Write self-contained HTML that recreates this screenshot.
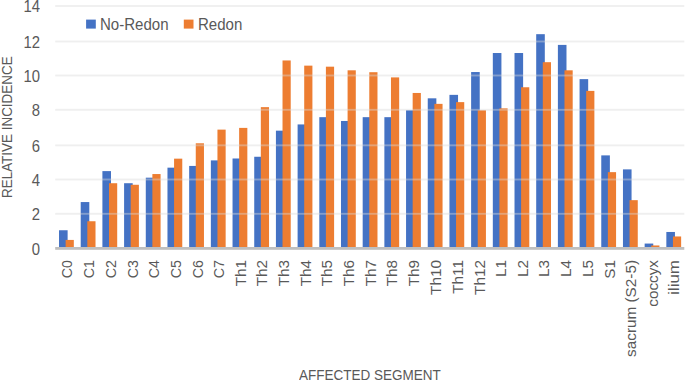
<!DOCTYPE html>
<html><head><meta charset="utf-8">
<style>
html,body{margin:0;padding:0;background:#fff;}
body{width:685px;height:382px;position:relative;overflow:hidden;font-family:"Liberation Sans",sans-serif;color:#595959;}
svg{position:absolute;left:0;top:0;}
.yt,.xl,.lg,.t{position:absolute;}
.yt{left:-0.5px;width:40px;text-align:right;font-size:16.5px;line-height:18px;transform-origin:100% 50%;transform:scaleX(0.9);}
.xl{top:259.7px;width:0;height:0;}
.xl span{position:absolute;right:0;top:-9px;line-height:18px;font-size:15.3px;white-space:nowrap;transform-origin:100% 50%;transform:rotate(-90deg);}
.lg{font-size:16px;line-height:18px;white-space:nowrap;transform-origin:0 50%;transform:scaleX(0.94);}
.t{line-height:18px;white-space:nowrap;transform-origin:0 0;}
</style></head><body>
<svg width="685" height="382" viewBox="0 0 685 382">
<rect x="59.02" y="230.25" width="8.6" height="17.35" fill="#4472C4"/>
<rect x="65.62" y="239.93" width="8.2" height="7.67" fill="#ED7D31"/>
<rect x="80.71" y="202.06" width="8.6" height="45.54" fill="#4472C4"/>
<rect x="87.31" y="221.25" width="8.2" height="26.35" fill="#ED7D31"/>
<rect x="102.4" y="171.11" width="8.6" height="76.49" fill="#4472C4"/>
<rect x="109" y="183.22" width="8.2" height="64.38" fill="#ED7D31"/>
<rect x="124.09" y="183.22" width="8.6" height="64.38" fill="#4472C4"/>
<rect x="130.69" y="184.77" width="8.2" height="62.83" fill="#ED7D31"/>
<rect x="145.78" y="177.68" width="8.6" height="69.92" fill="#4472C4"/>
<rect x="152.38" y="174.05" width="8.2" height="73.55" fill="#ED7D31"/>
<rect x="167.47" y="167.66" width="8.6" height="79.94" fill="#4472C4"/>
<rect x="174.07" y="158.66" width="8.2" height="88.94" fill="#ED7D31"/>
<rect x="189.16" y="165.93" width="8.6" height="81.67" fill="#4472C4"/>
<rect x="195.76" y="143.28" width="8.2" height="104.32" fill="#ED7D31"/>
<rect x="210.85" y="160.39" width="8.6" height="87.21" fill="#4472C4"/>
<rect x="217.45" y="129.62" width="8.2" height="117.98" fill="#ED7D31"/>
<rect x="232.54" y="158.49" width="8.6" height="89.11" fill="#4472C4"/>
<rect x="239.14" y="127.89" width="8.2" height="119.71" fill="#ED7D31"/>
<rect x="254.23" y="156.76" width="8.6" height="90.84" fill="#4472C4"/>
<rect x="260.83" y="107.14" width="8.2" height="140.46" fill="#ED7D31"/>
<rect x="275.92" y="130.66" width="8.6" height="116.94" fill="#4472C4"/>
<rect x="282.52" y="60.46" width="8.2" height="187.14" fill="#ED7D31"/>
<rect x="297.61" y="124.43" width="8.6" height="123.17" fill="#4472C4"/>
<rect x="304.21" y="65.64" width="8.2" height="181.96" fill="#ED7D31"/>
<rect x="319.3" y="117.17" width="8.6" height="130.43" fill="#4472C4"/>
<rect x="325.9" y="66.68" width="8.2" height="180.92" fill="#ED7D31"/>
<rect x="340.99" y="120.97" width="8.6" height="126.63" fill="#4472C4"/>
<rect x="347.59" y="70.31" width="8.2" height="177.29" fill="#ED7D31"/>
<rect x="362.68" y="117.17" width="8.6" height="130.43" fill="#4472C4"/>
<rect x="369.28" y="72.21" width="8.2" height="175.39" fill="#ED7D31"/>
<rect x="384.37" y="117.17" width="8.6" height="130.43" fill="#4472C4"/>
<rect x="390.97" y="77.4" width="8.2" height="170.2" fill="#ED7D31"/>
<rect x="406.06" y="110.25" width="8.6" height="137.35" fill="#4472C4"/>
<rect x="412.66" y="92.96" width="8.2" height="154.64" fill="#ED7D31"/>
<rect x="427.75" y="98.32" width="8.6" height="149.28" fill="#4472C4"/>
<rect x="434.35" y="103.86" width="8.2" height="143.74" fill="#ED7D31"/>
<rect x="449.44" y="94.86" width="8.6" height="152.74" fill="#4472C4"/>
<rect x="456.04" y="102.13" width="8.2" height="145.47" fill="#ED7D31"/>
<rect x="471.13" y="72.04" width="8.6" height="175.56" fill="#4472C4"/>
<rect x="477.73" y="110.25" width="8.2" height="137.35" fill="#ED7D31"/>
<rect x="492.82" y="53.02" width="8.6" height="194.58" fill="#4472C4"/>
<rect x="499.42" y="108.35" width="8.2" height="139.25" fill="#ED7D31"/>
<rect x="514.51" y="53.02" width="8.6" height="194.58" fill="#4472C4"/>
<rect x="521.11" y="87.26" width="8.2" height="160.34" fill="#ED7D31"/>
<rect x="536.2" y="34.18" width="8.6" height="213.42" fill="#4472C4"/>
<rect x="542.8" y="62.19" width="8.2" height="185.41" fill="#ED7D31"/>
<rect x="557.89" y="44.9" width="8.6" height="202.7" fill="#4472C4"/>
<rect x="564.49" y="70.31" width="8.2" height="177.29" fill="#ED7D31"/>
<rect x="579.58" y="79.13" width="8.6" height="168.47" fill="#4472C4"/>
<rect x="586.18" y="90.89" width="8.2" height="156.71" fill="#ED7D31"/>
<rect x="601.27" y="155.38" width="8.6" height="92.22" fill="#4472C4"/>
<rect x="607.87" y="172.15" width="8.2" height="75.45" fill="#ED7D31"/>
<rect x="622.96" y="169.38" width="8.6" height="78.22" fill="#4472C4"/>
<rect x="629.56" y="200.16" width="8.2" height="47.44" fill="#ED7D31"/>
<rect x="644.65" y="243.56" width="8.6" height="4.04" fill="#4472C4"/>
<rect x="651.25" y="245.46" width="8.2" height="2.14" fill="#ED7D31"/>
<rect x="666.34" y="231.97" width="8.6" height="15.63" fill="#4472C4"/>
<rect x="672.94" y="236.47" width="8.2" height="11.13" fill="#ED7D31"/>
<rect x="55.2" y="212.85" width="629.1" height="1.9" fill="#D9D9D9" fill-opacity="0.42"/>
<rect x="55.2" y="178.55" width="629.1" height="1.9" fill="#D9D9D9" fill-opacity="0.42"/>
<rect x="55.2" y="144.4" width="629.1" height="1.9" fill="#D9D9D9" fill-opacity="0.42"/>
<rect x="55.2" y="108.85" width="629.1" height="1.9" fill="#D9D9D9" fill-opacity="0.42"/>
<rect x="55.2" y="74.55" width="629.1" height="1.9" fill="#D9D9D9" fill-opacity="0.42"/>
<rect x="55.2" y="40.55" width="629.1" height="1.9" fill="#D9D9D9" fill-opacity="0.42"/>
<rect x="55.2" y="5.05" width="629.1" height="1.9" fill="#D9D9D9" fill-opacity="0.42"/>
<rect x="55.2" y="247" width="629.1" height="2.8" fill="#BFBFBF"/>
<rect x="86.1" y="19.6" width="9.7" height="9" fill="#4472C4"/>
<rect x="183.8" y="19.6" width="9.7" height="9" fill="#ED7D31"/>
</svg>
<div class="yt" style="top:239.65px">0</div>
<div class="yt" style="top:205.1px">2</div>
<div class="yt" style="top:170.8px">4</div>
<div class="yt" style="top:136.65px">6</div>
<div class="yt" style="top:101.1px">8</div>
<div class="yt" style="top:66.8px">10</div>
<div class="yt" style="top:32.8px">12</div>
<div class="yt" style="top:-2.7px">14</div>
<div class="xl" style="left:67.05px"><span style="transform:rotate(-90deg) scaleX(0.93)">C0</span></div>
<div class="xl" style="left:88.74px"><span style="transform:rotate(-90deg) scaleX(0.93)">C1</span></div>
<div class="xl" style="left:110.43px"><span style="transform:rotate(-90deg) scaleX(0.93)">C2</span></div>
<div class="xl" style="left:132.12px"><span style="transform:rotate(-90deg) scaleX(0.93)">C3</span></div>
<div class="xl" style="left:153.81px"><span style="transform:rotate(-90deg) scaleX(0.93)">C4</span></div>
<div class="xl" style="left:175.5px"><span style="transform:rotate(-90deg) scaleX(0.93)">C5</span></div>
<div class="xl" style="left:197.19px"><span style="transform:rotate(-90deg) scaleX(0.93)">C6</span></div>
<div class="xl" style="left:218.88px"><span style="transform:rotate(-90deg) scaleX(0.93)">C7</span></div>
<div class="xl" style="left:240.97px"><span>Th1</span></div>
<div class="xl" style="left:262.65px"><span>Th2</span></div>
<div class="xl" style="left:284.34px"><span>Th3</span></div>
<div class="xl" style="left:306.03px"><span>Th4</span></div>
<div class="xl" style="left:327.72px"><span>Th5</span></div>
<div class="xl" style="left:349.41px"><span>Th6</span></div>
<div class="xl" style="left:371.1px"><span>Th7</span></div>
<div class="xl" style="left:392.79px"><span>Th8</span></div>
<div class="xl" style="left:414.49px"><span>Th9</span></div>
<div class="xl" style="left:436.18px"><span>Th10</span></div>
<div class="xl" style="left:457.87px"><span>Th11</span></div>
<div class="xl" style="left:479.56px"><span>Th12</span></div>
<div class="xl" style="left:500.85px"><span>L1</span></div>
<div class="xl" style="left:522.54px"><span>L2</span></div>
<div class="xl" style="left:544.23px"><span>L3</span></div>
<div class="xl" style="left:565.92px"><span>L4</span></div>
<div class="xl" style="left:587.61px"><span>L5</span></div>
<div class="xl" style="left:609.3px"><span>S1</span></div>
<div class="xl" style="left:630.99px"><span>sacrum (S2-5)</span></div>
<div class="xl" style="left:652.68px"><span>coccyx</span></div>
<div class="xl" style="left:674.37px"><span style="transform:rotate(-90deg) scaleX(1.11)">ilium</span></div>
<div class="lg" style="left:100px;top:15.7px">No-Redon</div>
<div class="lg" style="left:198.2px;top:15.7px">Redon</div>
<div class="t" style="left:299px;top:366.2px;font-size:15px;transform:scale(0.9,1.03)">AFFECTED SEGMENT</div>
<div class="t" style="left:-2.1px;top:197.6px;font-size:14px;transform:rotate(-90deg) scaleX(0.96)">RELATIVE INCIDENCE</div>
</body></html>
